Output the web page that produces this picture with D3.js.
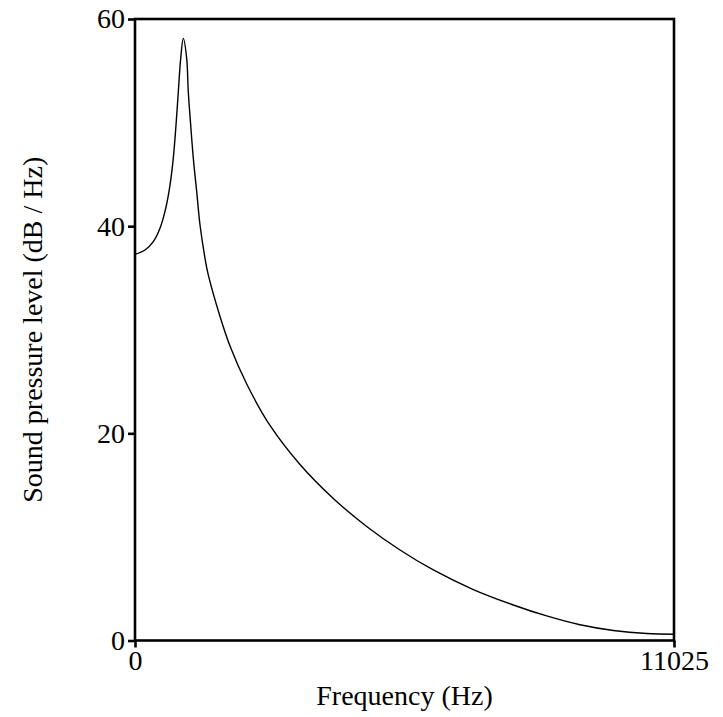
<!DOCTYPE html>
<html>
<head>
<meta charset="utf-8">
<script src="https://cdn.jsdelivr.net/npm/d3@7"></script>
<style>
  html, body { margin: 0; padding: 0; background: #fff; }
  svg text { font-family: "Liberation Serif", "Times New Roman", serif; }
</style>
</head>
<body>
<svg id="chart"></svg>
<script>
// spectrum (Hz, dB/Hz)
const freqs = [0, 205, 374, 511, 628, 716, 783, 839, 886, 935, 988, 1057, 1090, 1139, 1193, 1262, 1330, 1432, 1499,
  1739, 1943, 2285, 2761, 3375, 4056, 4739, 5421, 6102, 6920, 7738, 8421, 9102, 9784, 10467, 11025];
const levels = [37.28, 37.7, 38.5, 39.79, 41.72, 43.97, 46.55, 49.77, 52.98, 56.2, 58.13, 56.2, 52.98, 49.77, 46.55, 43.33, 40.11, 36.9, 35.29,
  31.28, 28.43, 24.76, 20.76, 16.99, 13.71, 11.01, 8.74, 6.81, 4.92, 3.43, 2.37, 1.52, 0.97, 0.67, 0.6];
const xTicks = [0, 11025];
const yTicks = [0, 20, 40, 60];

const width = 723, height = 717;
const margin = { top: 19, right: 49, bottom: 76.5, left: 135 };

const svg = d3.select('#chart')
  .attr('width', width)
  .attr('height', height)
  .attr('viewBox', `0 0 ${width} ${height}`);

const x = d3.scaleLinear().domain([0, 11025]).range([margin.left, width - margin.right]);
const y = d3.scaleLinear().domain([0, 60]).range([height - margin.bottom, margin.top]);

const data = freqs.map((f, i) => ({ f, db: levels[i] }));

// curve
svg.append('path')
  .datum(data)
  .attr('fill', 'none')
  .attr('stroke', '#000')
  .attr('stroke-width', 1.4)
  .attr('d', d3.line().x(d => x(d.f)).y(d => y(d.db)).curve(d3.curveCatmullRom.alpha(0.5)));

// frame
svg.append('rect')
  .attr('x', x(0)).attr('y', y(60))
  .attr('width', x(11025) - x(0))
  .attr('height', y(0) - y(60))
  .attr('fill', 'none')
  .attr('stroke', '#000')
  .attr('stroke-width', 2.6);

// axes
const yAxis = svg.append('g')
  .attr('transform', `translate(${x(0)},0)`)
  .call(d3.axisLeft(y).tickValues(yTicks).tickSize(7).tickPadding(3).tickFormat(d3.format('d')));

const xAxis = svg.append('g')
  .attr('transform', `translate(0,${y(0)})`)
  .call(d3.axisBottom(x).tickValues(xTicks).tickSize(7).tickPadding(3).tickFormat(d3.format('d')));

[yAxis, xAxis].forEach(a => {
  a.select('.domain').remove();
  a.selectAll('line').attr('stroke', '#000').attr('stroke-width', 2.6);
  a.selectAll('text')
    .attr('font-family', '"Liberation Serif", serif')
    .attr('font-size', 28)
    .attr('fill', '#000');
});

// axis titles
svg.append('text')
  .attr('x', (x(0) + x(11025)) / 2)
  .attr('y', 705)
  .attr('text-anchor', 'middle')
  .attr('font-size', 28)
  .text('Frequency (Hz)');

svg.append('text')
  .attr('transform', `translate(42,${(y(0) + y(60)) / 2}) rotate(-90)`)
  .attr('text-anchor', 'middle')
  .attr('font-size', 28)
  .text('Sound pressure level (dB / Hz)');
</script>
</body>
</html>
